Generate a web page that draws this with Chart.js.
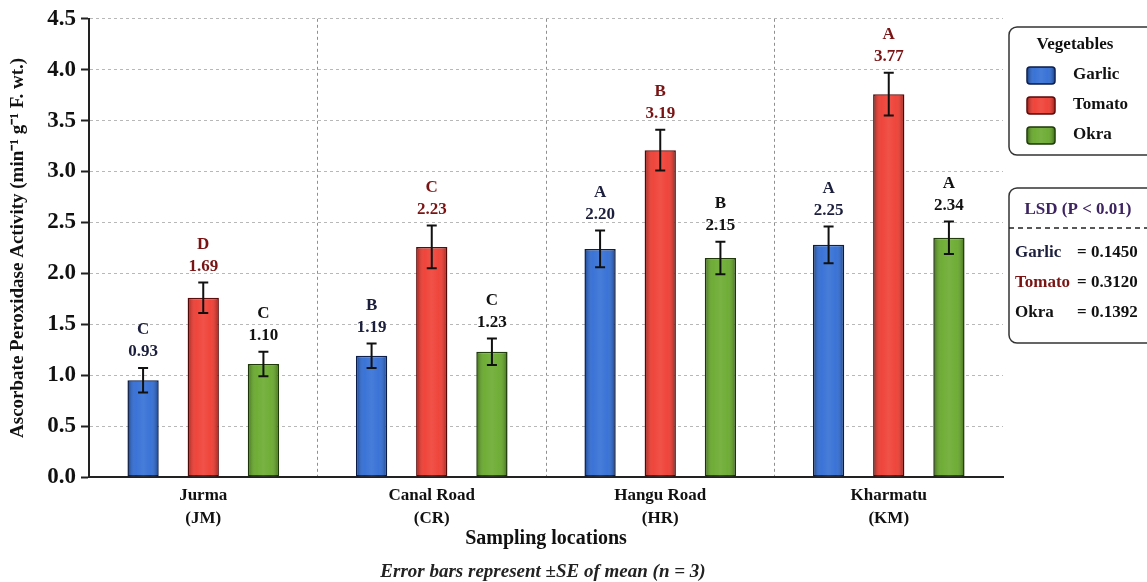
<!DOCTYPE html>
<html>
<head>
<meta charset="utf-8">
<script src="https://cdn.jsdelivr.net/npm/chart.js@4.4.1/dist/chart.umd.min.js"></script>
<style>
  html, body { margin: 0; padding: 0; background: #fff; }
  #wrap { width: 1147px; height: 582px; }
</style>
</head>
<body>
<div id="wrap"><canvas id="chart" width="1147" height="582"></canvas></div>
<script>
// data
const locations = [["Jurma", "(JM)"], ["Canal Road", "(CR)"], ["Hangu Road", "(HR)"], ["Kharmatu", "(KM)"]];
const vegetables = ["Garlic", "Tomato", "Okra"];

const garlicValues = [0.95, 1.19, 2.24, 2.28];
const tomatoValues = [1.76, 2.26, 3.21, 3.76];
const okraValues = [1.11, 1.23, 2.15, 2.35];

// +/- SE
const garlicSE = [0.12, 0.12, 0.18, 0.18];
const tomatoSE = [0.15, 0.21, 0.20, 0.21];
const okraSE = [0.12, 0.13, 0.16, 0.16];

// printed means and letter groups
const garlicText = ["0.93", "1.19", "2.20", "2.25"];
const tomatoText = ["1.69", "2.23", "3.19", "3.77"];
const okraText = ["1.10", "1.23", "2.15", "2.34"];
const garlicLetters = ["C", "B", "A", "A"];
const tomatoLetters = ["D", "C", "B", "A"];
const okraLetters = ["C", "C", "B", "A"];

const lsdValues = ["0.1450", "0.3120", "0.1392"];
const yMax = 4.5;
const yStep = 0.5;

const serif = '"Liberation Serif", "Times New Roman", serif';

const makeSet = (label, data, se, text, letters, fill, border, textColor) => ({
    label, data, se, text, letters, textColor,
    backgroundColor: fill,
    borderColor: border,
    borderWidth: 1.5,
    borderSkipped: false,
    categoryPercentage: 0.79,
    barPercentage: 0.52,
});

const datasets = [
    makeSet(vegetables[0], garlicValues, garlicSE, garlicText, garlicLetters, "#2e6bd4", "#0c1d4a", "#1b1f3d"),
    makeSet(vegetables[1], tomatoValues, tomatoSE, tomatoText, tomatoLetters, "#ee3a2f", "#5a0a0a", "#7a1414"),
    makeSet(vegetables[2], okraValues, okraSE, okraText, okraLetters, "#66a82a", "#1d3a08", "#111111"),
];

// soft side shading like the original bars
function shade(ctx, x, y, w, h) {
    const g = ctx.createLinearGradient(x, 0, x + w, 0);
    g.addColorStop(0, "rgba(0,0,0,0.28)");
    g.addColorStop(0.25, "rgba(255,255,255,0.06)");
    g.addColorStop(0.5, "rgba(255,255,255,0.12)");
    g.addColorStop(0.75, "rgba(255,255,255,0.06)");
    g.addColorStop(1, "rgba(0,0,0,0.28)");
    ctx.fillStyle = g;
    ctx.fillRect(x, y, w, h);
}

// error bars, labels above bars, legend boxes, footnote
const extras = {
    id: "extras",
    afterDatasetsDraw(chart) {
        const ctx = chart.ctx;
        const y = chart.scales.y;
        ctx.save();
        chart.data.datasets.forEach((ds, di) => {
            chart.getDatasetMeta(di).data.forEach((bar, i) => {
                const left = bar.x - bar.width / 2;
                shade(ctx, left + 1, bar.y + 1, bar.width - 2, bar.base - bar.y - 1);

                const top = y.getPixelForValue(ds.data[i] + ds.se[i]);
                const bot = y.getPixelForValue(ds.data[i] - ds.se[i]);
                ctx.strokeStyle = "#111";
                ctx.lineWidth = 2;
                ctx.beginPath();
                ctx.moveTo(bar.x, top); ctx.lineTo(bar.x, bot);
                ctx.moveTo(bar.x - 5, top); ctx.lineTo(bar.x + 5, top);
                ctx.moveTo(bar.x - 5, bot); ctx.lineTo(bar.x + 5, bot);
                ctx.stroke();

                ctx.fillStyle = ds.textColor;
                ctx.font = "bold 17px " + serif;
                ctx.textAlign = "center";
                ctx.textBaseline = "middle";
                ctx.fillText(ds.text[i], bar.x, top - 16);
                ctx.fillText(ds.letters[i], bar.x, top - 38);
            });
        });
        ctx.restore();
    },
    afterDraw(chart) {
        const ctx = chart.ctx;
        ctx.save();

        // legend box
        ctx.strokeStyle = "#333";
        ctx.lineWidth = 1.5;
        ctx.beginPath();
        ctx.roundRect(1009, 27, 150, 128, 8);
        ctx.stroke();
        ctx.fillStyle = "#111";
        ctx.font = "bold 17px " + serif;
        ctx.textAlign = "center";
        ctx.textBaseline = "middle";
        ctx.fillText("Vegetables", 1075, 45);
        ctx.textAlign = "left";
        chart.data.datasets.forEach((ds, i) => {
            const ry = 75 + i * 30;
            ctx.fillStyle = ds.backgroundColor;
            ctx.strokeStyle = ds.borderColor;
            ctx.lineWidth = 1.5;
            ctx.beginPath();
            ctx.roundRect(1027, ry - 8, 28, 17, 3);
            ctx.fill();
            shade(ctx, 1028, ry - 7, 26, 15);
            ctx.stroke();
            ctx.fillStyle = "#111";
            ctx.fillText(ds.label, 1073, ry);
        });

        // LSD box
        ctx.strokeStyle = "#333";
        ctx.lineWidth = 1.5;
        ctx.beginPath();
        ctx.roundRect(1009, 188, 150, 155, 8);
        ctx.stroke();
        ctx.fillStyle = "#3d2360";
        ctx.textAlign = "center";
        ctx.fillText("LSD (P < 0.01)", 1078, 210);
        ctx.setLineDash([5, 4]);
        ctx.strokeStyle = "#222";
        ctx.beginPath();
        ctx.moveTo(1009, 228); ctx.lineTo(1147, 228);
        ctx.stroke();
        ctx.setLineDash([]);
        ctx.font = "bold 17px " + serif;
        ctx.textAlign = "left";
        vegetables.forEach((v, i) => {
            const ry = 253 + i * 30;
            ctx.fillStyle = v === "Tomato" ? "#7a1414" : (v === "Garlic" ? "#1b1f3d" : "#111");
            ctx.fillText(v, 1015, ry);
            ctx.fillStyle = "#111";
            ctx.fillText("= " + lsdValues[i], 1077, ry);
        });

        // footnote
        ctx.fillStyle = "#222";
        ctx.font = "italic bold 19px " + serif;
        ctx.textAlign = "center";
        ctx.fillText("Error bars represent \u00b1SE of mean (n = 3)", 543, 572);
        ctx.restore();
    }
};

new Chart(document.getElementById("chart"), {
    type: "bar",
    data: { labels: locations, datasets },
    options: {
        responsive: false,
        animation: false,
        devicePixelRatio: 1,
        layout: { padding: { left: 0, right: 144, top: 18, bottom: 25 } },
        plugins: { legend: { display: false }, tooltip: { enabled: false } },
        scales: {
            x: {
                afterFit: (s) => { s.height = 80; },
                grid: {
                    offset: true,
                    drawTicks: false,
                    color: (c) => (c.type === "tick" && c.index > 0) ? "#8f8f8f" : "rgba(0,0,0,0)",
                    lineWidth: 1,
                },
                border: { color: "#222", width: 2, dash: [3, 3] },
                ticks: {
                    color: "#111",
                    padding: 8,
                    font: { family: serif, size: 17, weight: "bold", lineHeight: 1.3 },
                },
                title: {
                    display: true,
                    text: "Sampling locations",
                    color: "#111",
                    font: { family: serif, size: 20, weight: "bold" },
                    padding: { top: 0, bottom: 6 },
                },
            },
            y: {
                min: 0,
                max: yMax,
                afterFit: (s) => { s.width = 89; },
                grid: {
                    color: (c) => c.tick && c.tick.value === 0 ? "rgba(0,0,0,0)" : "#b8b8b8",
                    tickColor: "#222",
                    tickLength: 8,
                    tickWidth: 2,
                    tickBorderDash: [],
                },
                border: { color: "#222", width: 2, dash: [3, 3] },
                ticks: {
                    stepSize: yStep,
                    color: "#111",
                    padding: 5,
                    font: { family: serif, size: 23, weight: "bold" },
                    callback: (v) => v.toFixed(1),
                },
                title: {
                    display: true,
                    text: "Ascorbate Peroxidase Activity (min\u207b\u00b9 g\u207b\u00b9 F. wt.)",
                    color: "#111",
                    font: { family: serif, size: 19, weight: "bold" },
                    padding: { top: 7, bottom: 0 },
                },
            },
        },
    },
    plugins: [extras],
});
</script>
</body>
</html>
